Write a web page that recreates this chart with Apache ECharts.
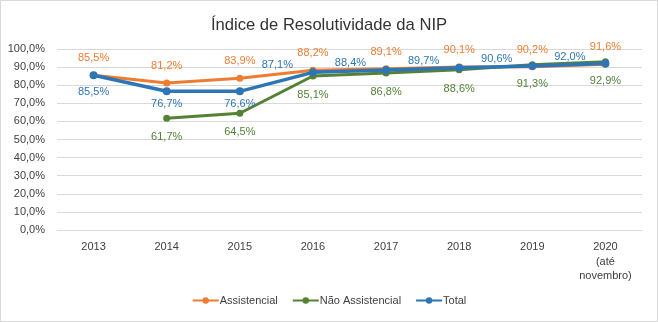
<!DOCTYPE html>
<html><head><meta charset="utf-8">
<script src="https://cdn.jsdelivr.net/npm/echarts@6/dist/echarts.min.js"></script>
<style>html,body{margin:0;padding:0;background:#fff}#c{width:658px;height:322px;box-sizing:border-box;border:1px solid #d9d9d9}</style>
</head><body><div id="c"></div>
<script>
var categories = ['2013','2014','2015','2016','2017','2018','2019','2020\n(até\nnovembro)'];
var assistencial = [85.5, 81.2, 83.9, 88.2, 89.1, 90.1, 90.2, 91.6];
var naoAssistencial = [null, 61.7, 64.5, 85.1, 86.8, 88.6, 91.3, 92.9];
var total = [85.5, 76.7, 76.6, 87.1, 88.4, 89.7, 90.6, 92.0];
var yTicks = [0,10,20,30,40,50,60,70,80,90,100];

var FONT = '"Liberation Sans", Arial, sans-serif';
function fmt(v){ return v.toFixed(1).replace('.', ',') + '%'; }

var chart = echarts.init(document.getElementById('c'));
var totalData = total.map(function(v,i){
  var d = {value: v};
  if (i >= 3) {
    d.label = {position: 'left', distance: 16, offset: [0, -7]};
  } else {
    d.label = {position: 'bottom', distance: i === 0 ? 7 : 3};
  }
  return d;
});
chart.setOption({
  animation: false,
  title: {text: 'Índice de Resolutividade da NIP', left: 'center', top: 11,
    textStyle: {fontFamily: FONT, fontSize: 16.6, fontWeight: 'normal', color: '#333333'}},
  grid: {left: 56, right: 15, top: 48, bottom: 91},
  legend: {bottom: 10, left: 'center', itemWidth: 26, itemHeight: 8, itemGap: 14,
    textStyle: {fontFamily: FONT, fontSize: 11, color: '#404040', padding: [0,0,0,-4]},
    data: ['Assistencial','Não Assistencial','Total']},
  xAxis: {type: 'category', data: categories, boundaryGap: true,
    axisLine: {show: true, lineStyle: {color: '#d9d9d9'}},
    axisTick: {show: false},
    axisLabel: {fontFamily: FONT, fontSize: 11, color: '#404040', margin: 10, lineHeight: 14.5}},
  yAxis: {type: 'value', min: 0, max: 100, interval: 10,
    axisLine: {show: false}, axisTick: {show: false},
    splitLine: {lineStyle: {color: '#d9d9d9'}},
    axisLabel: {fontFamily: FONT, fontSize: 11, color: '#404040', margin: 12,
      formatter: function(v){ return v.toFixed(1).replace('.', ',') + '%'; }}},
  series: [
    {name: 'Assistencial', type: 'line', data: assistencial, color: '#ED7D31',
      symbol: 'circle', symbolSize: 7, lineStyle: {width: 3},
      label: {show: true, position: 'top', distance: 8, fontFamily: FONT, fontSize: 11, color: '#ED7D31',
        formatter: function(p){ return fmt(p.value); }}},
    {name: 'Não Assistencial', type: 'line', data: naoAssistencial, color: '#548235',
      symbol: 'circle', symbolSize: 7, lineStyle: {width: 3},
      label: {show: true, position: 'bottom', distance: 10, fontFamily: FONT, fontSize: 11, color: '#548235',
        formatter: function(p){ return fmt(p.value); }}},
    {name: 'Total', type: 'line', data: totalData, color: '#2E75B6',
      symbol: 'circle', symbolSize: 8, lineStyle: {width: 3.5},
      label: {show: true, fontFamily: FONT, fontSize: 11, color: '#2E75B6',
        formatter: function(p){ return fmt(p.value); }}}
  ]
});
</script></body></html>
